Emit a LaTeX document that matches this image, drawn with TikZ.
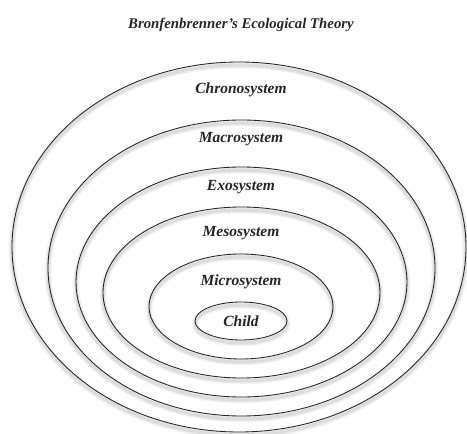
\documentclass[tikz,border=0pt]{standalone}
\usepackage{fontspec}
\setmainfont{Liberation Serif}
\begin{document}
\begin{tikzpicture}[x=1pt,y=-1pt,
  ring/.style={draw=black!85,line width=0.85pt},
  lbl/.style={font=\bfseries\itshape\fontsize{15.5}{18}\selectfont, inner sep=0pt, text=black!85},
  ttl/.style={font=\bfseries\itshape\fontsize{14.8}{17}\selectfont, inner sep=0pt, text=black!85}]
\useasboundingbox (0,0) rectangle (467,434);
\fill[white] (0,0) rectangle (467,434);
\foreach \cx/\cy/\rx/\ry in {239/247/227/185, 241.5/268/193.5/148, 241.5/282/165.5/115, 241.5/292.5/138.5/85.5, 241/306.5/92/52.5, 241/321/46/19}{
  \foreach \w/\o in {7/0.035,5/0.045,3/0.06}
    \draw[line width=\w pt, black, opacity=\o] (\cx,\cy+3) ellipse [x radius=\rx, y radius=\ry];
  \draw[ring] (\cx,\cy) ellipse [x radius=\rx, y radius=\ry];
}
\node[ttl] (title) at (241,25) {Bronfenbrenner's Ecological Theory};
\foreach \n/\y/\t in {chrono/90/Chronosystem, macro/139/Macrosystem, exo/187/Exosystem, meso/233/Mesosystem, micro/282/Microsystem, child/321/Child}{
  \node[lbl] (\n) at (241,\y) {\t};
}
\end{tikzpicture}
\end{document}
